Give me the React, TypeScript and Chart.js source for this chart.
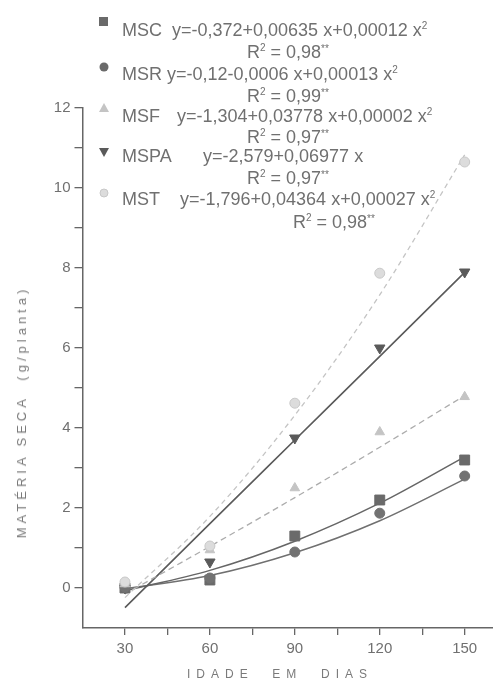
import React, { useEffect, useRef } from "react";
import { Chart, registerables } from "chart.js";

Chart.register(...registerables);

// ---- data ----
const days = [30, 60, 90, 120, 150];
const xTicks = [30, 45, 60, 75, 90, 105, 120, 135, 150];
const yTicks = [0, 1, 2, 3, 4, 5, 6, 7, 8, 9, 10, 11, 12];

// observed points
const mscObs = [0.0, 0.2, 1.3, 2.2, 3.2];
const msrObs = [0.02, 0.25, 0.9, 1.87, 2.8];
const msfObs = [0.1, 0.95, 2.5, 3.9, 4.78];
const mspaObs = [0.0, 0.65, 3.75, 6.0, 7.9];
const mstObs = [0.15, 1.05, 4.62, 7.87, 10.65];

// fitted curves (values of the drawn regression lines at each age)
const mscFit = [-0.07, 0.44, 1.17, 2.12, 3.28];
const msrFit = [-0.02, 0.31, 0.88, 1.68, 2.72];
const msfFit = [-0.15, 1.04, 2.26, 3.52, 4.81];
const mspaFit = [-0.49, 1.61, 3.7, 5.79, 7.89];
const mstFit = [-0.24, 1.79, 4.32, 7.33, 10.83];

const FONT = "'Liberation Sans', Arial, sans-serif";
const TXT = "#707070";

const pts = (ys: number[]) => days.map((x, i) => ({ x, y: ys[i] }));

type LegendRow = { top: number; name?: string; eq: string; sq?: boolean; left: number; markerTop?: number; marker?: string };

const legendRows: LegendRow[] = [
  { top: 30, name: "MSC", eq: "y=-0,372+0,00635 x+0,00012 x", sq: true, left: 172, markerTop: 22, marker: "rect" },
  { top: 52, eq: "R", left: 247 },
  { top: 74, name: "MSR", eq: "y=-0,12-0,0006 x+0,00013 x", sq: true, left: 167, markerTop: 67, marker: "circle" },
  { top: 96, eq: "R", left: 247 },
  { top: 116, name: "MSF", eq: "y=-1,304+0,03778 x+0,00002 x", sq: true, left: 177, markerTop: 108, marker: "tri" },
  { top: 137, eq: "R", left: 247 },
  { top: 156, name: "MSPA", eq: "y=-2,579+0,06977 x", sq: false, left: 203, markerTop: 152, marker: "tridown" },
  { top: 178, eq: "R", left: 247 },
  { top: 199, name: "MST", eq: "y=-1,796+0,04364 x+0,00027 x", sq: true, left: 180, markerTop: 193, marker: "mst" },
  { top: 222, eq: "R", left: 293 },
];
const r2Values = ["0,98", "0,99", "0,97", "0,97", "0,98"];

function Marker({ kind }: { kind: string }) {
  const s = 12;
  let el: any = null;
  if (kind === "rect") el = <rect x={1} y={1} width={9} height={9} fill="#6a6a6a" />;
  if (kind === "circle") el = <circle cx={6} cy={6} r={4.5} fill="#6a6a6a" />;
  if (kind === "tri") el = <polygon points="6,1 11,10 1,10" fill="#c4c4c4" />;
  if (kind === "tridown") el = <polygon points="1,2 11,2 6,11" fill="#5a5a5a" />;
  if (kind === "mst") el = <circle cx={6} cy={6} r={4} fill="#dcdcdc" stroke="#c8c8c8" />;
  return (
    <svg width={s} height={s} style={{ display: "block" }}>
      {el}
    </svg>
  );
}

export default function App() {
  const ref = useRef<HTMLCanvasElement | null>(null);

  useEffect(() => {
    const canvas = ref.current;
    if (!canvas) return;
    const lineDs = (ys: number[], color: string, dash: number[], width: number) => ({
      type: "scatter" as const,
      data: pts(ys),
      showLine: true,
      borderColor: color,
      borderWidth: width,
      borderDash: dash,
      pointRadius: 0,
      pointHoverRadius: 0,
      cubicInterpolationMode: "monotone" as const,
      fill: false,
      order: 2,
    });
    const pointDs = (ys: number[], style: string, color: string, radius: number, rotation = 0, border?: string) => ({
      type: "scatter" as const,
      data: pts(ys),
      showLine: false,
      pointStyle: style,
      pointRotation: rotation,
      pointRadius: radius,
      pointBackgroundColor: color,
      pointBorderColor: border || color,
      pointBorderWidth: 1,
      order: 1,
    });

    const chart = new Chart(canvas, {
      type: "scatter",
      data: {
        datasets: [
          lineDs(mstFit, "#c4c4c4", [5, 4], 1.3),
          lineDs(msfFit, "#acacac", [6, 4], 1.3),
          lineDs(mspaFit, "#5a5a5a", [], 1.6),
          lineDs(mscFit, "#666666", [], 1.5),
          lineDs(msrFit, "#707070", [], 1.5),
          pointDs(mstObs, "circle", "#dcdcdc", 5, 0, "#c8c8c8"),
          pointDs(msfObs, "triangle", "#c4c4c4", 5.5),
          pointDs(msrObs, "circle", "#727272", 5),
          pointDs(mscObs, "rect", "#6a6a6a", 7),
          pointDs(mspaObs, "triangle", "#5a5a5a", 6, 180),
        ] as any,
      },
      options: {
        responsive: false,
        animation: false,
        events: [],
        layout: { autoPadding: false, padding: { top: 108, right: 0, left: 0, bottom: 0 } },
        plugins: { legend: { display: false }, tooltip: { enabled: false }, title: { display: false } },
        scales: {
          x: {
            type: "linear",
            min: 15,
            max: 160,
            afterBuildTicks: (s: any) => {
              s.ticks = xTicks.map((v) => ({ value: v }));
            },
            afterFit: (s: any) => {
              s.height = 56;
              s.paddingLeft = 0;
              s.paddingRight = 0;
            },
            ticks: {
              autoSkip: false,
              maxRotation: 0,
              padding: 5,
              color: TXT,
              font: { family: FONT, size: 15 },
              callback: (v: any) => (Number(v) % 30 === 0 ? String(v) : ""),
            },
            grid: { drawOnChartArea: false, drawTicks: true, tickLength: 7, color: "#666", lineWidth: 1.3 },
            border: { display: true, color: "#666", width: 1.5 },
          },
          y: {
            type: "linear",
            min: -1,
            max: 12,
            afterBuildTicks: (s: any) => {
              s.ticks = yTicks.map((v) => ({ value: v }));
            },
            afterFit: (s: any) => {
              s.width = 82.5;
              s.paddingTop = 0;
              s.paddingBottom = 0;
            },
            ticks: {
              autoSkip: false,
              padding: 4,
              color: TXT,
              font: { family: FONT, size: 15 },
              callback: (v: any) => (Number(v) % 2 === 0 ? String(v) : ""),
            },
            grid: { drawOnChartArea: false, drawTicks: true, tickLength: 8, color: "#666", lineWidth: 1.3 },
            border: { display: true, color: "#666", width: 1.5 },
          },
        },
      },
    });
    return () => chart.destroy();
  }, []);

  let r2i = 0;
  return (
    <div style={{ position: "fixed", left: 0, top: 0, width: 493, height: 684, background: "#fff", overflow: "hidden", fontFamily: FONT }}>
      <canvas ref={ref} width={493} height={684} style={{ position: "absolute", left: 0, top: 0, width: 493, height: 684 }} />
      {legendRows.map((r, i) => {
        const isR = r.eq === "R";
        const val = isR ? r2Values[r2i++] : "";
        return (
          <React.Fragment key={i}>
            {r.marker && (
              <div style={{ position: "absolute", left: 98, top: (r.markerTop as number) - 6 }}>
                <Marker kind={r.marker} />
              </div>
            )}
            {r.name && (
              <div style={{ position: "absolute", left: 122, top: r.top - 10, fontSize: 18, lineHeight: "20px", color: TXT, whiteSpace: "pre" }}>
                {r.name}
              </div>
            )}
            <div style={{ position: "absolute", left: r.left, top: r.top - 10, fontSize: 18, lineHeight: "20px", color: TXT, whiteSpace: "pre" }}>
              {isR ? (
                <>
                  R<sup style={{ fontSize: 10, verticalAlign: 0, position: "relative", top: -7 }}>2</sup>
                  {" = " + val}
                  <sup style={{ fontSize: 10, verticalAlign: 0, position: "relative", top: -6 }}>**</sup>
                </>
              ) : (
                <>
                  {r.eq}
                  {r.sq && <sup style={{ fontSize: 10, verticalAlign: 0, position: "relative", top: -7 }}>2</sup>}
                </>
              )}
            </div>
          </React.Fragment>
        );
      })}
      <div
        style={{
          position: "absolute",
          left: 22,
          top: 412,
          transform: "translate(-50%, -50%) rotate(-90deg)",
          fontSize: 13,
          color: "#7a7a7a",
          letterSpacing: 4,
          whiteSpace: "pre",
          lineHeight: "14px",
        }}
      >
        {"MATÉRIA SECA  (g/planta)"}
      </div>
      <div
        style={{
          position: "absolute",
          left: 280,
          top: 674,
          transform: "translate(-50%, -50%)",
          fontSize: 12,
          color: "#7a7a7a",
          letterSpacing: 6,
          whiteSpace: "pre",
          lineHeight: "14px",
        }}
      >
        {"IDADE  EM  DIAS"}
      </div>
    </div>
  );
}
